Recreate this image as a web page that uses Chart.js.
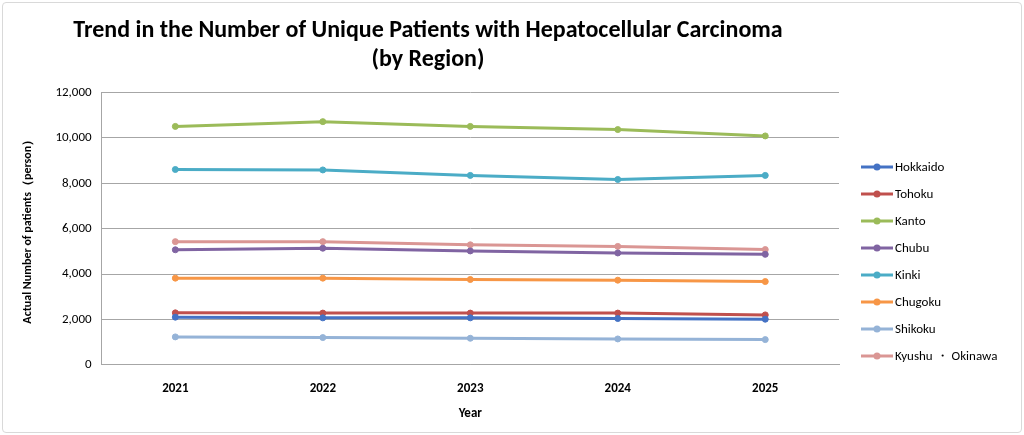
<!DOCTYPE html>
<html lang="en">
<head>
  <meta charset="UTF-8"/>
  <title>Hepatocellular Carcinoma Patients by Region</title>
  <style>
    body { margin: 0; background: #fff; font-family: Calibri, Carlito, "Open Sans", sans-serif; }
    #wrap { position: absolute; left: 2px; top: 2px; width: 1018px; height: 429px; border: 1px solid #d9d9d9; border-radius: 4px; }
    canvas { display: block; }
    #legend { position: absolute; left: 858px; top: 150px; font-size: 13px; color: #000; }
    #legend div { height: 27px; display: flex; align-items: center; }
    #legend canvas { margin-right: 2px; }
  </style>
</head>
<body>
  <div id="wrap"><canvas id="chart"></canvas><div id="legend"></div></div>
  <script src="https://cdn.jsdelivr.net/npm/chart.js"></script>
  <script>
  // data
  const years = ['2021', '2022', '2023', '2024', '2025'];
  const regions = ['Hokkaido', 'Tohoku', 'Kanto', 'Chubu', 'Kinki', 'Chugoku', 'Shikoku', 'Kyushu \u30FB Okinawa'];
  const colors = ['#4472c4', '#c0504d', '#9bbb59', '#8064a2', '#4bacc6', '#f79646', '#95b3d7', '#da9694'];
  const hokkaido = [2100, 2070, 2070, 2040, 2010];
  const tohoku   = [2290, 2280, 2280, 2280, 2200];
  const kanto    = [10510, 10720, 10510, 10370, 10090];
  const chubu    = [5070, 5140, 5020, 4930, 4870];
  const kinki    = [8610, 8590, 8350, 8170, 8350];
  const chugoku  = [3820, 3820, 3760, 3730, 3670];
  const shikoku  = [1230, 1200, 1170, 1140, 1110];
  const kyushu   = [5430, 5430, 5290, 5220, 5080];
  const series = [hokkaido, tohoku, kanto, chubu, kinki, chugoku, shikoku, kyushu];

  const wrap = document.getElementById('wrap');
  const cv = document.getElementById('chart');
  cv.width = wrap.clientWidth; cv.height = wrap.clientHeight;

  // legend: short line with a dot, like the spreadsheet legend
  const legend = document.getElementById('legend');
  regions.forEach((r, i) => {
    const row = document.createElement('div');
    const c = document.createElement('canvas');
    c.width = 32; c.height = 10;
    const g = c.getContext('2d');
    g.strokeStyle = colors[i]; g.lineWidth = 3;
    g.beginPath(); g.moveTo(0, 5); g.lineTo(32, 5); g.stroke();
    g.fillStyle = colors[i]; g.beginPath(); g.arc(16, 5, 3.5, 0, Math.PI * 2); g.fill();
    row.appendChild(c);
    row.appendChild(document.createTextNode(r));
    legend.appendChild(row);
  });

  const datasets = regions.map((r, i) => ({
    label: r,
    data: series[i],
    borderColor: colors[i],
    backgroundColor: colors[i],
    borderWidth: 3,
    pointRadius: 3,
    pointBorderWidth: 1,
    tension: 0
  }));

  const fontFam = 'Calibri, Carlito, "Open Sans", sans-serif';
  new Chart(cv, {
    type: 'line',
    data: { labels: years, datasets },
    options: {
      responsive: false,
      animation: false,
      layout: { padding: { left: 14, right: 182, top: 8, bottom: 6 } },
      plugins: {
        legend: { display: false },
        title: {
          display: true,
          text: ['Trend in the Number of Unique Patients with Hepatocellular Carcinoma', '(by Region)'],
          color: '#000',
          font: { family: fontFam, size: 24, weight: 'bold' },
          padding: { top: 6, bottom: 18 },
          lineHeight: 1.35
        }
      },
      scales: {
        x: {
          offset: true,
          grid: { display: false },
          border: { color: '#a6a6a6' },
          ticks: { color: '#000', font: { family: fontFam, size: 13, weight: 'bold' }, padding: 8 },
          title: { display: true, text: 'Year', color: '#000', font: { family: fontFam, size: 13, weight: 'bold' }, padding: { top: 2 } }
        },
        y: {
          min: 0, max: 12000,
          grid: { color: '#a6a6a6', drawTicks: false },
          border: { color: '#a6a6a6' },
          ticks: { stepSize: 2000, color: '#000', font: { family: fontFam, size: 13 }, padding: 10,
                   callback: v => v.toLocaleString('en-US') },
          title: { display: true, text: 'Actual Number of patients\uFF08person\uFF09', color: '#000', font: { family: fontFam, size: 12, weight: 'bold' }, padding: { bottom: 10 } }
        }
      }
    }
  });
  </script>
</body>
</html>
